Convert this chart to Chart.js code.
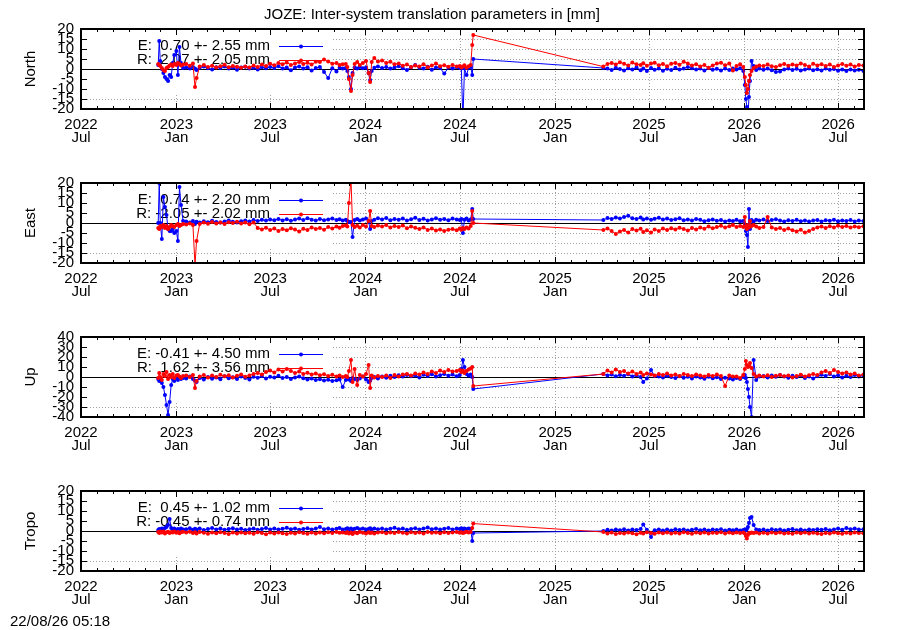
<!DOCTYPE html>
<html lang="en">
<head>
<meta charset="UTF-8">
<title>JOZE: Inter-system translation parameters</title>
<style>
  body { margin: 0; background: #fff; }
  #wrap { position: relative; width: 900px; height: 630px; font-family: "Liberation Sans", Arial, sans-serif; }
  #wrap canvas { position: absolute; left: 0; }
  #stamp { position: absolute; left: 10px; top: 613px; font-size: 15px; line-height: 16px; color: #000; }
</style>
</head>
<body>
<script src="https://cdn.jsdelivr.net/npm/chart.js@4.4.1/dist/chart.umd.min.js"></script>
<div id="wrap">
  <canvas id="c0" width="900" height="154" style="top:0px"></canvas>
  <canvas id="c1" width="900" height="154" style="top:154px"></canvas>
  <canvas id="c2" width="900" height="154" style="top:308px"></canvas>
  <canvas id="c3" width="900" height="154" style="top:462px"></canvas>
  <div id="stamp">22/08/26 05:18</div>
</div>
<script>
const FONT = '"Liberation Sans", Arial, sans-serif';
const chartTitle = 'JOZE: Inter-system translation parameters in [mm]';

// solution epochs (daily solutions thinned out, denser around the jumps)
const dates = [
  '2022-11-27','2022-11-29','2022-12-01','2022-12-04','2022-12-07','2022-12-10','2022-12-13','2022-12-16','2022-12-19','2022-12-22',
  '2022-12-25','2022-12-28','2023-01-01','2023-01-04','2023-01-07','2023-01-10','2023-01-14',
  '2023-01-20','2023-01-27','2023-02-02','2023-02-06','2023-02-09','2023-02-15','2023-02-23','2023-03-03','2023-03-11','2023-03-19',
  '2023-03-27','2023-04-04','2023-04-12','2023-04-20','2023-04-28','2023-05-06','2023-05-14','2023-05-22','2023-05-30','2023-06-07',
  '2023-06-15','2023-06-23','2023-07-01','2023-07-09','2023-07-17','2023-07-25','2023-08-02','2023-08-10','2023-08-18','2023-08-26',
  '2023-09-03','2023-09-11','2023-09-19','2023-09-27','2023-10-05','2023-10-13','2023-10-21','2023-10-29','2023-11-06','2023-11-12',
  '2023-11-18',
  '2023-11-24','2023-11-27','2023-11-30','2023-12-04','2023-12-07','2023-12-11','2023-12-16','2023-12-21','2023-12-27','2024-01-02',
  '2024-01-07','2024-01-10','2024-01-13','2024-01-18','2024-01-25',
  '2024-02-02','2024-02-10','2024-02-18','2024-02-26','2024-03-05','2024-03-13','2024-03-21','2024-03-29','2024-04-06','2024-04-14',
  '2024-04-22','2024-04-30','2024-05-08','2024-05-16','2024-05-24','2024-06-01','2024-06-09','2024-06-17','2024-06-25',
  '2024-07-01','2024-07-04','2024-07-07','2024-07-10','2024-07-14','2024-07-18','2024-07-22','2024-07-25','2024-07-27',
  '2025-04-04','2025-04-12','2025-04-20','2025-04-28','2025-05-06','2025-05-14','2025-05-22','2025-05-30','2025-06-07','2025-06-15',
  '2025-06-20','2025-06-27','2025-07-05','2025-07-12','2025-07-20','2025-07-28','2025-08-05','2025-08-13','2025-08-21','2025-08-29',
  '2025-09-06','2025-09-14','2025-09-22','2025-09-30','2025-10-08','2025-10-16','2025-10-24','2025-11-01','2025-11-09','2025-11-17',
  '2025-11-25','2025-12-03','2025-12-10','2025-12-17','2025-12-24',
  '2025-12-30','2026-01-02','2026-01-04','2026-01-06','2026-01-08','2026-01-10','2026-01-12','2026-01-15','2026-01-19','2026-01-24',
  '2026-01-30',
  '2026-02-07','2026-02-15','2026-02-23','2026-03-03','2026-03-11','2026-03-19','2026-03-27','2026-04-04','2026-04-12','2026-04-20',
  '2026-04-28','2026-05-06','2026-05-14','2026-05-22','2026-05-30','2026-06-07','2026-06-15','2026-06-23','2026-07-01','2026-07-09',
  '2026-07-17','2026-07-25','2026-08-02','2026-08-10','2026-08-19'
];

// North
const northE = [
  2, 14, 4, 0, -2, -4, -5, -6, -3, -4, 3, 7, 9, -3, 11, 3, 0.5,
  0.8, 0.2, 1.0, 0.3, -0.5, 0.6, 1.2, 0.4, -0.3, 0.9, 0.5, 1.3, 0.2, 0.7, -0.4, 0.8, 1.1, 0.3, 0.6, -0.2,
  0.9, 0.4, 1.0, 0.5, 1.4, 0.2, 0.8, -0.6, 0.7, 1.2, 0.3, 0.9, -0.8, 0.5, 1.0, -1.5, -4.5, 0.4, -1.2, 0.6, 0.2,
  0.5, -1, -4, -10, -2, 0.8, 0.3, 1.0, 0.4, 0.8, -2, -5.5, -1, 0.6, 1.2,
  0.5, 1.0, 0.2, 0.7, 1.4, 0.4, -0.5, 0.9, 2.0, 0.6, 0.3, 1.1, -0.4, 0.8, 0.5, -2.3, 0.7, 0.2, 0.9,
  0.5, 0.3, -26, 0.4, -3, 0.6, 1.0, -3, 5,
  0.5, 0.2, -0.5, 0.6, 0.0, -0.8, 0.4, -0.3, 0.7, -0.6, 0.2, -1.0, 0.5, -0.4, 0.3, -0.9, 0.1, -0.5, 0.6, -0.2,
  0.3, 1.0, 0.4, -0.3, 0.2, -0.7, 0.5, -0.4, 0.1, -0.8, 0.3, -0.5, 0.2, -0.3, 0.4,
  -1, -8, -15, -19, -24, -14, -6, 4, 1.5, -0.5, 0.3,
  -0.4, 0.2, -0.6, -1.5, -1.2, -0.3, 0.2, -0.5, 0.1, -0.7, -0.2, 0.3, -0.6, -0.1, -0.8, 0.2, -0.4, 0.0, -0.9, -0.3,
  -1.0, -0.2, -0.7, -0.4, -1.0
];
const northR = [
  2.5, 2, 1.5, 0.5, -0.5, -1, 0.5, 1, 1.8, 2.2, 1.5, 2.5, 2, 3, 2.5, 1.8, 2.2,
  2.5, 1.6, 2.8, -9, -4.5, 1.2, 2.0, 1.0, 1.6, 0.8, 1.4, 2.1, 0.9, 1.5, 1.1, 0.6, 1.3, 0.8, 1.7, 1.0,
  2.2, 1.5, 2.6, 1.9, 3.0, 2.4, 3.3, 2.0, 2.8, 3.5, 2.5, 3.1, 2.2, 3.6, 3.5, 4.8, 3.8, 2.6, 3.0, 2.0, 2.4,
  2.5, 1.0, -5, -11, -3, 2.5, 3.5, 2.0, 3.0, 4.0, -2, -6.5, 3.5, 5.5, 3.8,
  4.2, 3.0, 3.6, 2.4, 2.8, 1.6, 2.2, 1.0, 1.8, 1.2, 2.4, 0.9, 1.7, 2.8, 1.4, 1.9, 1.1, 2.0, 1.3,
  1.5, 0.8, 1.2, 1.9, 0.6, 1.4, 2.0, 12, 17,
  1.2, 2.5, 3.0, 2.2, 3.4, 2.6, 1.8, 3.2, 2.4, 2.0, 2.9, 1.6, 2.7, 3.1, 1.9, 2.5, 1.4, 2.6, 3.0, 2.1,
  3.6, 2.8, 1.7, 2.4, 1.2, 2.0, 0.6, 1.8, 2.7, 3.1, 1.9, 2.8, -0.8, 1.5, 2.4,
  1.0, -4, -8, -12, -10, -6, -3, -1, 0.5, 1.2, 1.8,
  1.5, 2.2, 1.4, 1.0, 1.9, 2.5, 1.6, 2.3, 1.8, 2.8, 2.0, 1.3, 2.6, 1.8, 2.4, 1.5, 2.2, 1.0, 1.8, 2.5,
  1.6, 2.2, 1.2, 2.0, 1.7
];

// East
const eastE = [
  0, 20, 0, -8, 13, 8, 4, -3, -4, -4, -3, -5, -4, -9, 18, 9, 1,
  0.8, 0.3, 1.0, -0.5, 0.6, 0.2, 0.9, 0.4, 1.1, 0.5, 0.2, 0.8, 1.3, 0.6, 0.3, 0.9, 1.2, 0.7, 1.5, 1.0,
  1.6, 1.2, 1.8, 1.4, 2.0, 1.3, 1.9, 1.1, 1.7, 2.2, 1.5, 2.4, 1.6, 1.2, 2.0, 1.4, 1.8, 2.3, 1.5, 1.9, 1.3,
  1.6, 1.0, 0.5, 0.5, -7, 1.5, 2.0, 1.2, 1.8, 2.2, 0.5, -3, 1.0, 1.6, 2.4,
  1.8, 2.5, 1.4, 2.0, 1.6, 2.3, 1.2, 1.9, 2.6, 1.5, 2.1, 1.3, 1.8, 2.4, 1.6, 2.0, 1.4, 2.2, 1.7,
  1.5, 2.0, -5, 1.6, 2.2, 1.2, 1.8, 7, 2.0,
  1.5, 2.5, 2.0, 2.8, 2.2, 3.0, 3.6, 2.4, 2.0, 2.7, 1.8, 2.3, 1.6, 2.1, 2.6, 1.7, 2.2, 1.5, 1.9, 2.4,
  1.4, 1.8, 1.2, 2.0, 1.6, 0.9, 1.4, 1.8, 1.1, 1.5, 0.8, 1.3, 1.0, 1.6, 0.9,
  1.0, -1, -4, -6, -12, 7, -3, 1.5, 0.8, 1.6, 1.2,
  1.8, 1.0, 1.5, 1.9, 1.2, 0.8, 1.4, 1.0, 1.6, 0.9, 1.3, 0.7, 1.2, 1.5, 0.8, 1.4, 1.1, 1.6, 0.9, 1.3,
  1.0, 1.5, 0.8, 1.2, 1.0
];
const eastR = [
  -2.5, -3, -1.5, -2, -1, -2.5, -1.5, -3, -2, -1, -1.5, -2, -1, -0.5, -1.5, -1, -0.5,
  -0.8, -0.3, -1.0, -21, -9, -0.5, 0.2, -0.4, 0.5, -0.2, 0.3, -0.5, 0.4, 0.0, 0.6, -0.3, 0.2, -0.6, 0.3, -2.5,
  -3.2, -2.4, -3.5, -2.8, -4.0, -3.0, -3.6, -2.6, -3.3, -4.2, -2.9, -3.5, -2.2, -3.0, -2.5, -3.4, -2.0, -2.8, -1.8, -2.4, -1.5,
  -1.2, -1.8, 10, 22, -1, -2.0, -1.4, -2.2, -1.0, -1.8, 1.0, 6, -1.5, -2.0, -1.3,
  -1.8, -1.0, -2.2, -1.5, -2.0, -1.2, -2.6, -1.8, -2.4, -3.0, -2.2, -3.5, -2.8, -3.8, -3.2, -4.0, -3.4, -3.0, -3.6,
  -2.8, -3.4, -2.5, -3.0, -2.2, -2.8, -1.5, 6, 0,
  -3.5, -2.8, -4.0, -5.5, -4.2, -3.5, -4.8, -3.0, -3.8, -2.9, -4.5, -3.6, -4.8, -3.2, -4.0, -2.8, -3.5, -2.6, -3.3, -2.4,
  -3.0, -3.8, -2.5, -3.2, -2.2, -2.9, -1.8, -2.6, -2.0, -1.4, -2.3, -1.6, -1.0, -2.0, -1.5,
  -2.0, 3.0, -1.5, -3.0, -1.0, -2.2, 1.0, -1.5, -1.0, -1.8, -2.5,
  -2.0, 3.0, -2.2, -3.0, -2.5, -3.5, -2.8, -3.6, -4.2, -3.4, -4.8, -4.0, -3.0, -2.2, -1.8, -2.5, -1.6, -2.2, -1.4, -2.0,
  -1.5, -2.3, -1.7, -2.1, -1.6
];

// Up
const upE = [
  -2, -4, -3, -6, -10, -18, -28, -38, -25, -8, -2, -4, -1, -3, 0, -2, -1,
  -1.5, 0.5, -2.0, -3.5, -5.0, -1.0, -2.5, 0.0, -1.8, -0.5, -2.2, 0.8, -1.2, -0.3, -2.0, 0.5, -1.0, -2.5, 0.2, -0.8,
  1.0, -1.5, 0.3, -0.6, 1.2, -1.0, 0.0, -2.0, -0.4, 0.6, -1.2, -2.5, -1.5, -3.0, -2.2, -3.5, -2.8, -4.0, -3.2, -2.5, -10,
  -3.0, -1.5, -2.5, -4.0, -1.0, -2.0, -3.0, -1.5, 0.5, -2.5, -5.0, -3.5, -1.0, 0.0, -1.5,
  0.5, -0.8, 1.2, 0.0, 1.8, 0.4, 2.0, 0.8, 1.5, -0.5, 2.2, 1.0, 2.8, 0.6, 1.8, 3.0, 1.2, 2.5, 0.8,
  2.0, 8, 17, 10, 3, 1.5, 2.5, 0, -12,
  3.0, 1.5, 2.5, 0.8, 2.0, 1.2, 2.8, 0.5, 1.8, 0.0, -5.0, -1.5, 7.0, 1.0, 0.5, -0.5, 1.2, 0.0, -1.0, 0.8,
  -0.8, 0.3, -1.5, 0.5, -0.6, -1.8, 0.2, -1.2, -0.3, -2.0, -0.8, -1.5, -2.5, -1.0, -2.0,
  0, 2, -1, -5, -12, -20, -30, -40, 17, -3, 0.5,
  1.0, -0.5, 1.5, 0.2, 2.0, 0.5, -0.8, 1.2, 0.0, 1.8, -1.0, 0.5, -1.5, 0.8, 2.2, 1.0, 3.0, 0.5, 1.8, -0.5,
  1.2, 0.0, 2.0, 0.6, 1.5
];
const upR = [
  -1, 4, 0, -3, 3, 1, 5, -2, 2, 0, 3, -1, 1.5, 2, 0.5, -1, 1,
  1.5, 0.0, 2.0, -11, -4, 0.5, 2.0, -0.5, 1.5, 0.0, 2.2, 0.8, 1.8, -0.5, 1.2, 2.5, 0.3, 1.6, 3.0, 4.0,
  2.5, 5.0, 6.5, 4.5, 7.5, 5.5, 8.0, 6.0, 4.0, 5.5, 3.0, 4.2, 2.5, 3.5, 1.8, 2.8, 1.0, 2.2, 0.5, 1.5, 0.0,
  1.0, 0.0, 6, 17, -5, 8, -8, 2, 0.5, 3, 12, -11, 1.5, -0.5, 1.0,
  0.0, 1.5, -1.0, 2.0, 0.5, 2.5, 3.0, 1.5, 3.5, 2.5, 4.5, 3.0, 5.5, 4.0, 6.5, 5.0, 7.0, 5.5, 6.0,
  7.0, 5.0, 6.5, 4.0, 6.0, 7.5, 8.5, 10, -9,
  3.0, 6.5, 4.5, 7.5, 5.0, 6.0, 3.5, 5.5, 3.0, 4.5, 2.0, 3.5, 2.5, 1.5, 3.0, 2.0, 3.5, 1.5, 2.5, 1.0,
  3.0, 2.0, 1.0, 2.5, 1.5, 0.5, 2.0, 1.0, 2.5, 1.0, -9, 1.5, 0.5, 0.5, -1.0,
  2.0, 8, 16, 12, 10, 11, 14, 9, 3, 0.5, 1.5,
  0.5, 1.8, 0.0, 1.2, 2.0, 0.8, 1.5, -0.5, 1.0, 2.2, 0.5, 1.8, 3.0, 2.0, 4.5, 6.0, 4.0, 7.0, 5.0, 3.5,
  4.5, 2.5, 3.5, 1.5, 2.5
];

// Tropo
const tropoE = [
  0.5, 1.0, 0.3, 1.2, 0.8, 1.5, 2.0, 3.0, 6.0, 1.5, 0.8, 1.2, 0.5, 1.0, 0.6, 1.3, 0.8,
  0.9, 1.4, 0.6, 1.1, 0.7, 1.3, 0.5, 1.0, 1.5, 0.8, 1.2, 0.6, 1.0, 1.4, 0.7, 1.1, 0.5, 0.9, 1.3, 0.6,
  1.0, 1.5, 0.8, 1.2, 0.7, 1.1, 1.6, 0.9, 1.3, 0.6, 1.0, 1.4, 0.8, 1.2, 2.0, 0.9, 1.3, 0.7, 1.1, 1.5, 0.8,
  1.0, 1.4, 0.8, 1.2, 0.6, 1.1, 1.5, 0.9, 1.3, 0.7, 1.0, 1.4, 0.8, 1.2, 0.9,
  1.3, 0.7, 1.1, 1.6, 0.9, 1.2, 0.6, 1.0, 1.4, 0.8, 1.2, 1.7, 0.9, 1.3, 0.7, 1.1, 1.5, 0.8, 1.2,
  1.0, 1.4, 0.8, 1.2, 0.9, 1.3, 1.0, -5, -1,
  0.0, 0.6, 0.2, 0.8, 0.4, 0.9, 0.3, 0.7, 0.5, 1.0, 3.2, 0.6, -3.0, 0.4, 0.8, 0.2, 0.7, 0.3, 0.9, 0.5,
  0.8, 0.2, 0.6, 1.0, 0.4, 0.7, 0.3, 0.8, 0.5, 0.9, 0.2, 0.6, 0.4, 0.8, 0.3,
  0.5, 0.8, 0.4, 1.0, 2.0, 4.0, 6.5, 7.0, 3.0, 0.8, 0.5,
  0.7, 0.3, 0.9, 0.5, 0.8, 0.2, 0.6, 1.0, 0.4, 0.7, 0.3, 0.8, 0.5, 0.9, 0.6, 1.0, 0.4, 0.8, 1.2, 0.6,
  1.5, 0.9, 1.2, 0.7, 0.9
];
const tropoR = [
  -0.5, -1.0, -0.3, -0.8, -0.2, -1.2, -0.6, -0.4, -1.0, -0.5, -0.8, -0.3, -0.9, -0.5, -1.1, -0.6, -0.4,
  -0.8, -0.4, -1.0, -0.6, -1.2, -0.5, -0.9, -1.4, -0.7, -1.1, -0.6, -1.0, -1.5, -0.8, -1.2, -0.7, -1.1, -0.9, -1.4, -0.6,
  -1.0, -1.6, -0.8, -1.3, -0.7, -1.1, -1.5, -0.9, -1.2, -0.6, -1.0, -1.4, -0.8, -1.3, -0.7, -1.1, -0.6, -1.0, -0.5, -0.9, -0.7,
  -1.0, -0.6, -1.2, -0.8, -1.5, -0.7, -1.1, -0.5, -0.9, -1.3, -0.6, -1.0, -0.7, -1.2, -0.8,
  -0.6, -1.1, -0.7, -1.0, -0.5, -0.9, -1.3, -0.6, -1.0, -0.8, -1.2, -0.5, -0.9, -0.7, -1.1, -0.6, -1.0, -0.8, -0.5,
  -0.9, -0.6, -1.0, -0.7, -0.4, -0.8, -0.5, 1.5, 3.7,
  -0.5, -1.2, -0.8, -1.5, -1.0, -1.3, -0.7, -1.1, -1.6, -0.9, -1.2, -0.6, -1.0, -1.4, -0.8, -1.1, -0.7, -1.3, -0.9, -1.2,
  -0.6, -1.0, -1.4, -0.8, -1.1, -0.7, -1.2, -0.9, -1.0, -0.6, -1.3, -0.8, -1.1, -0.7, -1.0,
  -0.8, -1.2, -2.5, -3.8, -2.0, -1.0, -1.1, -0.7, -1.0, -0.8, -1.2,
  -0.9, -1.3, -0.7, -1.1, -0.8, -1.2, -1.0, -1.4, -0.8, -1.1, -0.7, -1.3, -0.9, -1.2, -1.5, -1.0, -1.3, -0.8, -1.1, -1.4,
  -0.9, -1.2, -0.8, -1.0, -1.1
];

// key texts
const keyE = ['E:  0.70 +- 2.55 mm', 'E:  0.74 +- 2.20 mm', 'E: -0.41 +- 4.50 mm', 'E:  0.45 +- 1.02 mm'];
const keyR = ['R:  2.07 +- 2.05 mm', 'R: -2.05 +- 2.02 mm', 'R:  1.62 +- 3.56 mm', 'R: -0.45 +- 0.74 mm'];
const panelNames = ['North', 'East', 'Up', 'Tropo'];

// axes
const xMin = '2022-07-01', xMax = '2026-08-20';
const xMajor = ['2022-07-01', '2023-01-01', '2023-07-01', '2024-01-01', '2024-07-01', '2025-01-01', '2025-07-01', '2026-01-01', '2026-07-01'];
const xTickLabels = [['2022', 'Jul'], ['2023', 'Jan'], ['2023', 'Jul'], ['2024', 'Jan'], ['2024', 'Jul'], ['2025', 'Jan'], ['2025', 'Jul'], ['2026', 'Jan'], ['2026', 'Jul']];
const ticks20 = [-20, -15, -10, -5, 0, 5, 10, 15, 20];
const ticks40 = [-40, -30, -20, -10, 0, 10, 20, 30, 40];

const colE = '#0000ff', colR = '#ff0000';
const FS = 15;
const toMs = s => Date.parse(s);

const panels = [
  { e: northE, r: northR, yTicks: ticks20 },
  { e: eastE, r: eastR, yTicks: ticks20 },
  { e: upE, r: upR, yTicks: ticks40 },
  { e: tropoE, r: tropoR, yTicks: ticks20 }
];

panels.forEach((p, k) => {
  [p.e, p.r].forEach(s => {
    if (s.length !== dates.length) throw new Error(panelNames[k] + ': ' + s.length + ' values for ' + dates.length + ' dates');
  });
});

// monthly minor ticks
const minorMonths = [];
for (let t = new Date(toMs(xMin)); t.getTime() <= toMs(xMax); t.setUTCMonth(t.getUTCMonth() + 1)) {
  minorMonths.push(t.getTime());
}

// gnuplot-like frame: dotted grid, opaque key, zero line, inner ticks
const gnuFrame = {
  id: 'gnuFrame',
  beforeDatasetsDraw(chart, args, opts) {
    const { ctx, chartArea: a, scales: { x, y } } = chart;
    const yt = opts.yTicks;
    ctx.save();
    ctx.strokeStyle = '#a0a0a0';
    ctx.lineWidth = 1;
    ctx.setLineDash([1, 2]);
    ctx.beginPath();
    yt.forEach(v => {
      if (v === yt[0] || v === yt[yt.length - 1] || v === 0) return;
      const py = Math.round(y.getPixelForValue(v)) + 0.5;
      ctx.moveTo(a.left, py);
      ctx.lineTo(a.right, py);
    });
    xMajor.forEach(d => {
      const px = Math.round(x.getPixelForValue(toMs(d))) + 0.5;
      if (px <= a.left + 2 || px >= a.right - 2) return;
      ctx.moveTo(px, a.top);
      ctx.lineTo(px, a.bottom);
    });
    ctx.stroke();
    ctx.setLineDash([]);

    // key
    ctx.fillStyle = '#fff';
    ctx.fillRect(a.left + 1, a.top + 1, 250, 64);
    ctx.font = FS + 'px ' + FONT;
    ctx.textAlign = 'right';
    ctx.textBaseline = 'middle';
    [[opts.keyE, colE, 17], [opts.keyR, colR, 31]].forEach(([txt, col, dy]) => {
      const ry = a.top + dy;
      ctx.fillStyle = '#000';
      ctx.fillText(txt, a.left + 189, ry);
      ctx.strokeStyle = col;
      ctx.lineWidth = 1;
      ctx.beginPath();
      ctx.moveTo(a.left + 198, ry + 0.5);
      ctx.lineTo(a.left + 242, ry + 0.5);
      ctx.stroke();
      ctx.fillStyle = col;
      ctx.beginPath();
      ctx.arc(a.left + 220, ry + 0.5, 2, 0, Math.PI * 2);
      ctx.fill();
    });

    // zero line
    const pz = Math.round(y.getPixelForValue(0)) + 0.5;
    ctx.strokeStyle = '#000';
    ctx.lineWidth = 1;
    ctx.beginPath();
    ctx.moveTo(a.left, pz);
    ctx.lineTo(a.right, pz);
    ctx.stroke();
    ctx.restore();
  },
  afterDatasetsDraw(chart, args, opts) {
    const { ctx, chartArea: a, scales: { x, y } } = chart;
    ctx.save();
    ctx.strokeStyle = '#000';
    ctx.lineWidth = 1;
    ctx.beginPath();
    minorMonths.forEach(t => {
      const px = Math.round(x.getPixelForValue(t)) + 0.5;
      const major = xMajor.some(d => toMs(d) === t);
      const len = major ? 6 : 3;
      ctx.moveTo(px, a.bottom);
      ctx.lineTo(px, a.bottom - len);
      ctx.moveTo(px, a.top);
      ctx.lineTo(px, a.top + len);
    });
    opts.yTicks.forEach(v => {
      const py = Math.round(y.getPixelForValue(v)) + 0.5;
      ctx.moveTo(a.left, py);
      ctx.lineTo(a.left + 6, py);
      ctx.moveTo(a.right, py);
      ctx.lineTo(a.right - 6, py);
    });
    ctx.stroke();
    ctx.lineWidth = 2;
    ctx.strokeRect(a.left, a.top, a.right - a.left, a.bottom - a.top);
    ctx.restore();
  }
};

Chart.defaults.font.family = FONT;
Chart.defaults.font.size = FS;
Chart.defaults.color = '#000';

const lineStyle = {
  borderWidth: 1,
  pointRadius: 2,
  pointBorderWidth: 0,
  pointHoverRadius: 0,
  tension: 0,
  clip: 0
};

panels.forEach((p, k) => {
  const toPts = vals => dates.map((d, i) => ({ x: toMs(d), y: vals[i] }));
  const yt = p.yTicks;
  new Chart(document.getElementById('c' + k), {
    type: 'line',
    data: {
      datasets: [
        { label: 'E', data: toPts(p.e), borderColor: colE, backgroundColor: colE, order: 2, ...lineStyle },
        { label: 'R', data: toPts(p.r), borderColor: colR, backgroundColor: colR, order: 1, ...lineStyle }
      ]
    },
    options: {
      responsive: false,
      animation: false,
      events: [],
      layout: { padding: { left: 0, right: 36, top: k === 0 ? 0 : 29, bottom: 0 } },
      plugins: {
        legend: { display: false },
        tooltip: { enabled: false },
        title: {
          display: k === 0,
          text: chartTitle,
          color: '#000',
          font: { size: FS, weight: 'normal', lineHeight: 1.2 },
          padding: { top: 5.5, bottom: 5.5 }
        },
        gnuFrame: { yTicks: yt, keyE: keyE[k], keyR: keyR[k] }
      },
      scales: {
        x: {
          type: 'linear',
          min: toMs(xMin),
          max: toMs(xMax),
          grid: { display: false, drawTicks: false },
          border: { display: false },
          afterBuildTicks: s => { s.ticks = xMajor.map(d => ({ value: toMs(d) })); },
          afterFit: s => { s.height = 45; },
          ticks: {
            autoSkip: false,
            maxRotation: 0,
            padding: 9.3,
            font: { size: FS, lineHeight: 0.89 },
            callback: (v, i) => xTickLabels[i]
          }
        },
        y: {
          type: 'linear',
          min: yt[0],
          max: yt[yt.length - 1],
          grid: { display: false, drawTicks: false },
          border: { display: false },
          afterBuildTicks: s => { s.ticks = yt.map(v => ({ value: v })); },
          afterFit: s => { s.width = 81; },
          title: { display: true, text: panelNames[k], font: { size: FS }, padding: { top: 22, bottom: 0 } },
          ticks: { autoSkip: false, padding: 7, font: { size: FS }, callback: v => String(v) }
        }
      }
    },
    plugins: [gnuFrame]
  });
});
</script>
</body>
</html>
